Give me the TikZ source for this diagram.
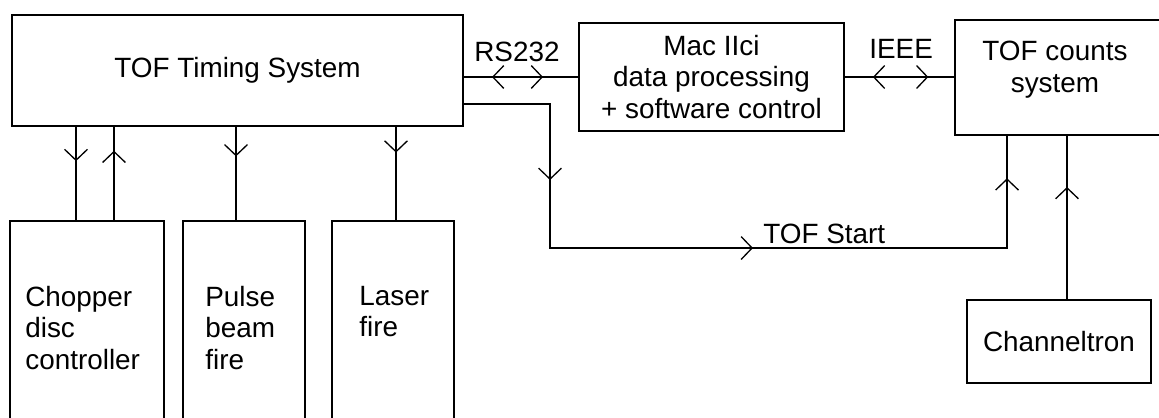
\documentclass[tikz,border=0pt]{standalone}
\usepackage{fontspec}
\setmainfont{Liberation Sans}
\usetikzlibrary{arrows.meta,positioning,calc,decorations.markings}

\begin{document}
\begin{tikzpicture}[x=0.02cm, y=-0.02cm,
    blockbox/.style={rectangle, draw=black, line width=0.75pt, inner sep=0pt, outer sep=0pt,
                     align=center, font=\fontsize{15.87pt}{18.1pt}\selectfont},
    boxtext/.style={inner sep=0pt, align=left, anchor=north west,
                    font=\fontsize{15.87pt}{18.1pt}\selectfont},
    linklabel/.style={inner sep=0pt, anchor=base west, font=\fontsize{15.87pt}{18.1pt}\selectfont},
    wire/.style={line width=0.75pt},
    barb/.tip={Straight Barb[length=6.2pt, width=13pt]},
    fwd/.style={postaction={decorate, decoration={markings,
                mark=at position #1 with {\arrow{barb}}}}},
    bwd/.style={postaction={decorate, decoration={markings,
                mark=at position #1 with {\arrowreversed{barb}}}}}
  ]
  \useasboundingbox (0,0) rectangle (1159,417);
  \clip (0,0) rectangle (1159,417);

  % top row
  \node[blockbox, minimum width=9.02cm, minimum height=2.22cm] (timing) at (237.5,70.5) {TOF Timing System};
  \node[blockbox, minimum width=5.3cm, minimum height=2.16cm]  (mac)    at (711.5,77)   {Mac IIci\\data processing\\+ software control};
  \node[blockbox, minimum width=4.2cm, minimum height=2.3cm]   (counts) at (1060,77.5)  {};
  \node[boxtext, anchor=center, align=center] (countstext) at (1055,70) {TOF counts\\system};

  % bottom row
  \node[blockbox, anchor=north west, minimum width=3.08cm, minimum height=4.4cm] (chopper) at (10,221)  {};
  \node[blockbox, anchor=north west, minimum width=2.44cm, minimum height=4.4cm] (pulse)   at (183,221) {};
  \node[blockbox, anchor=north west, minimum width=2.44cm, minimum height=4.4cm] (laser)   at (332,221) {};
  \node[boxtext] (choppertext) at (25,285.6)  {Chopper\\disc\\controller};
  \node[boxtext] (pulsetext)   at (205,285.6) {Pulse\\beam\\fire};
  \node[boxtext] (lasertext)   at (359,285.6) {Laser\\fire};
  \node[blockbox, minimum width=3.68cm, minimum height=1.66cm] (channel) at (1059,341.5) {Channeltron};

  % RS232 and IEEE links
  \draw[wire, bwd=0.25, fwd=0.69] (mac.west -| timing.east) -- (mac.west);
  \draw[wire, bwd=0.26, fwd=0.76] (mac.east) -- (counts.west |- mac.east);
  \node[linklabel] (rslabel)   at (474,61) {RS232};
  \node[linklabel] (ieeelabel) at (869,58) {IEEE};

  % TOF start
  \coordinate (startout)  at ($(timing.south east)+(0,-22)$);
  \coordinate (startbend) at (550,248);
  \coordinate (countsin)  at ($(counts.south west)+(52,0)$);
  \draw[wire, fwd=0.2035, fwd=0.5418, fwd=0.946] (startout) -| (startbend) -| (countsin);
  \node[linklabel] (startlabel) at (763,243) {TOF Start};

  % timing system to the controllers
  \coordinate (chopdown) at ($(chopper.north west)+(66,0)$);
  \coordinate (chopup)   at ($(chopper.north west)+(104,0)$);
  \coordinate (pulsein)  at ($(pulse.north west)+(53,0)$);
  \coordinate (laserin)  at ($(laser.north west)+(64,0)$);
  \draw[wire, fwd=0.37] (chopdown |- timing.south) -- (chopdown);
  \draw[wire, fwd=0.74] (chopup) -- (chopup |- timing.south);
  \draw[wire, fwd=0.32] (pulsein |- timing.south) -- (pulsein);
  \draw[wire, fwd=0.28] (laserin |- timing.south) -- (laserin);

  % channeltron to counts
  \coordinate (chanout) at ($(channel.north west)+(100,0)$);
  \draw[wire, fwd=0.685] (chanout) -- (chanout |- counts.south);
\end{tikzpicture}
\end{document}
